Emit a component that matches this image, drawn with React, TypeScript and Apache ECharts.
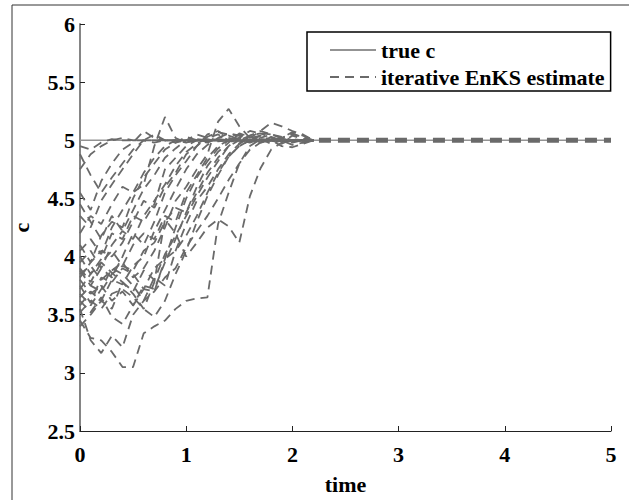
import React, { useEffect, useRef } from "react";
import * as echarts from "echarts";

// time grid of the ensemble trajectories
const timeSteps = [0, 0.1, 0.2, 0.3, 0.4, 0.5, 0.6, 0.7, 0.8, 0.9, 1.0, 1.1, 1.2, 1.3, 1.4, 1.5, 1.6, 1.7, 1.8, 1.9, 2.0, 2.1, 2.2];

// true parameter value
const trueTime = [0, 5];
const trueC = [5, 5];

// converged ensemble (all members coincide)
const convergedTime = [2.25, 5];
const convergedC = [5, 5];

// iterative EnKS ensemble members
const member01 = [3.45, 3.30, 3.28, 3.18, 3.05, 3.05, 3.34, 3.40, 3.45, 3.55, 3.62, 3.64, 3.65, 4.28, 4.55, 4.80, 4.95, 5.01, 5.00, 5.02, 4.98, 5.00, 5.00];
const member02 = [3.55, 3.28, 3.17, 3.32, 3.22, 3.50, 3.62, 3.70, 3.82, 3.90, 4.08, 4.22, 4.35, 4.50, 4.66, 4.80, 4.92, 4.98, 5.03, 5.00, 4.99, 5.00, 5.00];
const member03 = [3.62, 3.52, 3.65, 3.48, 3.42, 3.58, 3.72, 3.90, 3.98, 4.05, 4.18, 4.35, 4.55, 4.72, 4.86, 4.95, 5.00, 5.04, 5.00, 4.97, 5.01, 5.00, 5.00];
const member04 = [3.72, 3.85, 3.95, 3.86, 3.78, 3.68, 3.55, 3.78, 4.32, 4.20, 4.00, 4.12, 4.25, 4.32, 4.26, 4.12, 4.52, 4.76, 4.92, 4.98, 5.04, 5.01, 5.00];
const member05 = [3.80, 3.68, 3.75, 3.62, 3.70, 3.58, 3.75, 3.72, 3.95, 4.15, 4.38, 4.55, 4.72, 4.85, 4.95, 5.02, 5.08, 5.06, 5.05, 5.02, 5.06, 5.02, 5.00];
const member06 = [3.85, 3.92, 3.80, 3.88, 3.95, 3.82, 3.90, 4.05, 4.25, 4.48, 4.60, 4.75, 4.88, 5.16, 5.27, 5.12, 5.02, 4.98, 5.00, 5.01, 5.00, 5.00, 5.00];
const member07 = [3.90, 3.78, 3.95, 4.05, 3.92, 4.10, 4.20, 4.15, 4.35, 4.30, 4.55, 4.70, 4.85, 4.95, 5.00, 5.05, 5.02, 5.08, 5.15, 5.12, 5.08, 5.05, 5.00];
const member08 = [3.95, 4.05, 3.90, 4.10, 4.22, 4.15, 4.35, 4.48, 4.62, 4.78, 4.90, 4.97, 5.02, 5.05, 5.00, 4.98, 5.03, 5.00, 5.01, 4.99, 5.00, 5.00, 5.00];
const member09 = [4.00, 3.85, 3.98, 4.20, 4.15, 4.35, 4.30, 4.45, 4.75, 4.85, 4.95, 5.00, 4.98, 5.02, 5.06, 5.04, 5.00, 5.01, 4.97, 5.00, 5.00, 5.00, 5.00];
const member10 = [4.05, 4.15, 4.02, 4.25, 4.40, 4.55, 4.62, 4.95, 5.20, 5.02, 4.98, 5.00, 5.01, 4.99, 5.00, 5.02, 5.00, 5.00, 5.00, 5.00, 5.00, 5.00, 5.00];
const member11 = [4.10, 3.95, 4.18, 4.30, 4.25, 4.50, 4.68, 4.80, 4.92, 4.98, 5.03, 5.00, 4.99, 5.01, 5.00, 5.00, 5.00, 5.00, 5.00, 5.00, 5.00, 5.00, 5.00];
const member12 = [3.65, 3.75, 3.70, 3.85, 3.92, 3.88, 4.05, 4.12, 4.30, 4.42, 4.38, 4.60, 4.78, 4.90, 4.98, 5.06, 5.03, 4.99, 5.00, 5.00, 5.00, 5.00, 5.00];
const member13 = [3.75, 3.60, 3.82, 3.78, 3.90, 3.85, 3.72, 3.70, 3.98, 4.25, 4.50, 4.68, 4.82, 4.93, 5.00, 4.97, 5.02, 5.04, 5.00, 5.00, 5.00, 5.00, 5.00];
const member14 = [3.58, 3.70, 3.62, 3.80, 3.76, 3.92, 4.00, 4.22, 4.40, 4.58, 4.75, 4.88, 4.96, 5.02, 5.04, 5.01, 4.99, 5.00, 5.00, 5.00, 5.00, 5.00, 5.00];
const member15 = [4.20, 4.35, 4.28, 4.45, 4.60, 4.55, 4.72, 4.85, 4.95, 5.00, 4.98, 5.01, 5.00, 5.00, 5.00, 5.00, 5.00, 5.00, 5.00, 5.00, 5.00, 5.00, 5.00];
const member16 = [4.35, 4.25, 4.48, 4.62, 4.75, 4.88, 5.00, 5.05, 5.00, 4.98, 5.00, 5.00, 5.00, 5.00, 5.00, 5.00, 5.00, 5.00, 5.00, 5.00, 5.00, 5.00, 5.00];
const member17 = [4.55, 4.40, 4.65, 4.80, 4.92, 4.98, 5.08, 5.02, 5.00, 5.00, 5.00, 5.00, 5.00, 5.00, 5.00, 5.00, 5.00, 5.00, 5.00, 5.00, 5.00, 5.00, 5.00];
const member18 = [4.75, 4.88, 4.95, 5.00, 5.02, 5.00, 5.00, 5.00, 5.00, 5.00, 5.00, 5.00, 5.00, 5.00, 5.00, 5.00, 5.00, 5.00, 5.00, 5.00, 5.00, 5.00, 5.00];
const member19 = [4.95, 4.92, 4.98, 5.01, 5.00, 5.00, 5.00, 5.00, 5.00, 5.00, 5.00, 5.00, 5.00, 5.00, 5.00, 5.00, 5.00, 5.00, 5.00, 5.00, 5.00, 5.00, 5.00];
const member20 = [4.88, 4.70, 4.55, 4.68, 4.80, 4.92, 5.00, 4.98, 5.00, 5.00, 5.00, 5.00, 5.00, 5.00, 5.00, 5.00, 5.00, 5.00, 5.00, 5.00, 5.00, 5.00, 5.00];
const member21 = [3.82, 3.95, 4.05, 4.00, 4.12, 4.30, 4.48, 4.42, 4.60, 4.72, 4.88, 4.95, 5.03, 5.07, 5.05, 5.04, 5.00, 4.98, 5.00, 5.02, 5.05, 5.03, 5.00];
const member22 = [3.52, 3.62, 3.55, 3.68, 3.72, 3.65, 3.55, 3.48, 3.62, 3.85, 4.05, 4.30, 4.52, 4.70, 4.86, 4.95, 5.00, 5.02, 5.05, 5.03, 5.00, 4.98, 5.00];
const member23 = [3.68, 3.58, 3.72, 3.90, 3.85, 3.75, 3.62, 3.82, 3.75, 4.05, 4.28, 4.48, 4.60, 4.75, 4.88, 4.97, 5.04, 5.08, 5.05, 5.02, 5.07, 5.04, 5.00];
const member24 = [3.88, 3.75, 3.90, 3.82, 4.00, 4.20, 4.10, 4.30, 4.55, 4.70, 4.82, 4.95, 5.05, 5.08, 5.02, 5.00, 5.04, 5.06, 5.02, 5.00, 4.96, 4.98, 5.00];
const member25 = [4.45, 4.30, 4.15, 4.35, 4.22, 4.40, 4.58, 4.70, 4.85, 4.93, 5.00, 5.05, 5.02, 5.00, 5.00, 5.00, 5.00, 5.00, 5.00, 5.00, 5.00, 5.00, 5.00];
const member26 = [3.40, 3.50, 3.62, 3.55, 3.78, 3.70, 3.88, 3.80, 4.02, 4.18, 4.35, 4.52, 4.68, 4.82, 4.95, 5.00, 4.98, 5.01, 5.00, 4.95, 4.94, 4.97, 5.00];

const ensemble = [
  member01, member02, member03, member04, member05, member06, member07, member08, member09,
  member10, member11, member12, member13, member14, member15, member16, member17, member18,
  member19, member20, member21, member22, member23, member24, member25, member26,
];

const xTicks = { min: 0, max: 5, interval: 1 };
const yTicks = { min: 2.5, max: 6, interval: 0.5 };

const FONT = "'Liberation Serif', 'Times New Roman', serif";
const DASH_COLOR = "#6a6a6a";
const TRUE_COLOR = "#939393";
const EST_NAME = "iterative EnKS estimate";

export default function App() {
  const ref = useRef<HTMLDivElement>(null);

  useEffect(() => {
    if (!ref.current) return;
    const chart = echarts.init(ref.current, undefined, { renderer: "svg" });

    const memberSeries = ensemble.map((vals) => ({
      name: EST_NAME,
      type: "line",
      data: timeSteps.map((t, i) => [t, vals[i]]),
      symbol: "none",
      lineStyle: { color: DASH_COLOR, width: 1.8, type: [9, 6] },
      itemStyle: { color: DASH_COLOR },
      z: 3,
    }));

    const labelStyle = {
      fontFamily: FONT,
      fontWeight: "bold",
      fontSize: 22,
      color: "#000",
    };

    chart.setOption({
      animation: false,
      backgroundColor: "#fff",
      grid: { left: 80, right: 18, top: 24, bottom: 58 },
      xAxis: {
        type: "value",
        min: xTicks.min,
        max: xTicks.max,
        interval: xTicks.interval,
        splitLine: { show: false },
        axisLine: { lineStyle: { color: "#222", width: 1 } },
        axisTick: { inside: true, length: 5, lineStyle: { color: "#222" } },
        axisLabel: { ...labelStyle, margin: 12 },
        name: "time",
        nameLocation: "middle",
        nameGap: 42,
        nameTextStyle: labelStyle,
      },
      yAxis: {
        type: "value",
        min: yTicks.min,
        max: yTicks.max,
        interval: yTicks.interval,
        splitLine: { show: false },
        axisLine: { show: true, lineStyle: { color: "#858585", width: 2 } },
        axisTick: { show: true, inside: true, length: 5, lineStyle: { color: "#222" } },
        axisLabel: { ...labelStyle, margin: 5 },
        name: "c",
        nameLocation: "middle",
        nameGap: 48,
        nameRotate: 90,
        nameTextStyle: labelStyle,
      },
      legend: {
        show: true,
        orient: "vertical",
        left: 307,
        top: 32,
        data: ["true c", EST_NAME],
        itemWidth: 46,
        itemHeight: 12,
        itemGap: 5,
        itemStyle: { opacity: 0 },
        borderColor: "#000",
        borderWidth: 1.5,
        borderRadius: 0,
        padding: [7, 6, 3, 22],
        backgroundColor: "#fff",
        textStyle: { ...labelStyle, lineHeight: 22, padding: [0, 0, 0, 0] },
      },
      graphic: [
        { type: "line", shape: { x1: 12, y1: 5, x2: 12, y2: 500 }, style: { stroke: "#333", lineWidth: 1 } },
        { type: "line", shape: { x1: 12, y1: 5, x2: 629, y2: 5 }, style: { stroke: "#333", lineWidth: 1 } },
      ],
      series: [
        {
          name: "true c",
          type: "line",
          data: trueTime.map((t, i) => [t, trueC[i]]),
          symbol: "none",
          lineStyle: { color: TRUE_COLOR, width: 1.6, type: "solid" },
          itemStyle: { color: TRUE_COLOR },
          z: 2,
        },
        ...memberSeries,
        {
          name: EST_NAME,
          type: "line",
          data: convergedTime.map((t, i) => [t, convergedC[i]]),
          symbol: "none",
          lineStyle: { color: DASH_COLOR, width: 5, type: [12, 7] },
          itemStyle: { color: DASH_COLOR },
          z: 4,
        },
      ],
    });

    return () => chart.dispose();
  }, []);

  return (
    <div
      ref={ref}
      style={{ position: "fixed", left: 0, top: 0, width: 629, height: 500, background: "#fff" }}
    />
  );
}
